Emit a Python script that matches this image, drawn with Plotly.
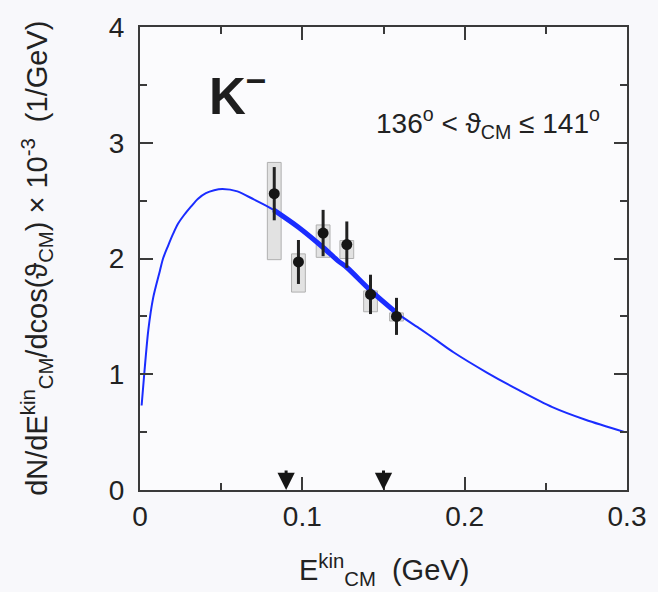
import plotly.graph_objects as go

# ---- data ----
curve_x = [0.001, 0.0026, 0.0051, 0.0081, 0.0122, 0.0142, 0.0173, 0.0203, 0.0234,
           0.0274, 0.0315, 0.0356, 0.0406, 0.0457, 0.0508, 0.060, 0.0701, 0.0823,
           0.0976, 0.1128, 0.122, 0.1276, 0.1423, 0.158, 0.1728, 0.183, 0.1931,
           0.2134, 0.2337, 0.254, 0.2744, 0.2988]
curve_y = [0.73, 1.00, 1.38, 1.66, 1.89, 2.00, 2.11, 2.21, 2.30,
           2.38, 2.45, 2.515, 2.565, 2.59, 2.60, 2.58, 2.51, 2.42,
           2.27, 2.095, 1.98, 1.92, 1.72, 1.53, 1.39, 1.29, 1.19,
           1.017, 0.86, 0.716, 0.607, 0.50]
fit_range = [0.082, 0.159]

pt_x = [0.0827, 0.0976, 0.1128, 0.1274, 0.1420, 0.1580]
pt_y = [2.56, 1.97, 2.22, 2.12, 1.69, 1.50]
stat_err = [0.23, 0.19, 0.20, 0.20, 0.17, 0.16]
sys_lo = [1.99, 1.71, 2.01, 2.00, 1.54, 1.46]
sys_hi = [2.83, 2.04, 2.29, 2.155, 1.72, 1.53]
sys_width = 0.0085

arrow_x = [0.090, 0.150]

x_ticks = [0, 0.1, 0.2, 0.3]
x_tick_text = ["0", "0.1", "0.2", "0.3"]
y_ticks = [0, 1, 2, 3, 4]
y_tick_text = ["0", "1", "2", "3", "4"]

FONT = "Liberation Sans, Arial, Helvetica, sans-serif"
AX = "#3a3a3a"

fig = go.Figure()

# systematic boxes
fig.add_trace(go.Bar(
    x=pt_x, base=sys_lo, y=[h - l for h, l in zip(sys_hi, sys_lo)],
    width=sys_width, marker=dict(color="#e2e2e2", line=dict(color="#b0b0b0", width=1)),
    showlegend=False, hoverinfo="skip"))

# model curve (thin)
fig.add_trace(go.Scatter(x=curve_x, y=curve_y, mode="lines",
                         line=dict(color="#1a2cff", width=2, shape="spline", smoothing=0.8),
                         showlegend=False))
# thick fit range
fx = [x for x in curve_x if fit_range[0] <= x <= fit_range[1]]
fy = [y for x, y in zip(curve_x, curve_y) if fit_range[0] <= x <= fit_range[1]]
fig.add_trace(go.Scatter(x=fx, y=fy, mode="lines",
                         line=dict(color="#1a2cff", width=5, shape="spline", smoothing=0.8),
                         showlegend=False))

# data points
fig.add_trace(go.Scatter(
    x=pt_x, y=pt_y, mode="markers",
    marker=dict(color="#151515", size=11, symbol="circle"),
    error_y=dict(type="data", array=stat_err, color="#222222", thickness=3, width=0),
    showlegend=False))

# arrows
for ax_ in arrow_x:
    fig.add_annotation(x=ax_, y=0, xref="x", yref="y", ax=0, ay=-21,
                       showarrow=True, arrowhead=2, arrowsize=1.15, arrowwidth=3,
                       arrowcolor="#151515", text="")

fig.add_annotation(x=0.0605, y=3.43, xref="x", yref="y", showarrow=False,
                   text="<b>K<sup>−</sup></b>", font=dict(family=FONT, size=51, color="#1e1e1e"))
fig.add_annotation(x=0.2146, y=3.17, xref="x", yref="y", showarrow=False,
                   text="136<sup>o</sup> < ϑ<sub>CM</sub> ≤ 141<sup>o</sup>",
                   font=dict(family=FONT, size=28, color="#222222"))

# axis titles
fig.add_annotation(x=-0.213, y=0.5, xref="paper", yref="paper", showarrow=False,
                   textangle=-90, xanchor="center", yanchor="middle",
                   text="dN/dE<sup>kin</sup><sub>CM</sub>/dcos(ϑ<sub>CM</sub>) × 10<sup>-3</sup>  (1/GeV)",
                   font=dict(family=FONT, size=29, color="#222222"))
fig.add_annotation(x=0.5, y=-0.172, xref="paper", yref="paper", showarrow=False,
                   xanchor="center", yanchor="middle",
                   text="E<sup>kin</sup><sub>CM</sub>  (GeV)",
                   font=dict(family=FONT, size=29, color="#222222"))

axis_common = dict(showline=True, linecolor=AX, linewidth=2, mirror="ticks",
                   ticks="inside", tickcolor=AX, tickwidth=2, ticklen=13,
                   showgrid=False, zeroline=False,
                   tickfont=dict(family=FONT, size=28, color="#222222"))

fig.update_layout(
    width=658, height=592,
    margin=dict(l=140, r=26, t=26, b=102),
    paper_bgcolor="#f8f8fb", plot_bgcolor="#fbfbfd",
    font=dict(family=FONT, color="#222222"),
    barmode="overlay",
    xaxis=dict(range=[0, 0.3], tickvals=x_ticks, ticktext=x_tick_text,
               minor=dict(dtick=0.05, ticks="inside", ticklen=7, tickcolor=AX, tickwidth=2),
               **axis_common),
    yaxis=dict(range=[0, 4], tickvals=y_ticks, ticktext=y_tick_text,
               ticklabelstandoff=8,
               minor=dict(dtick=0.5, ticks="inside", ticklen=7, tickcolor=AX, tickwidth=2),
               **axis_common),
)

fig.write_html("out.html")
